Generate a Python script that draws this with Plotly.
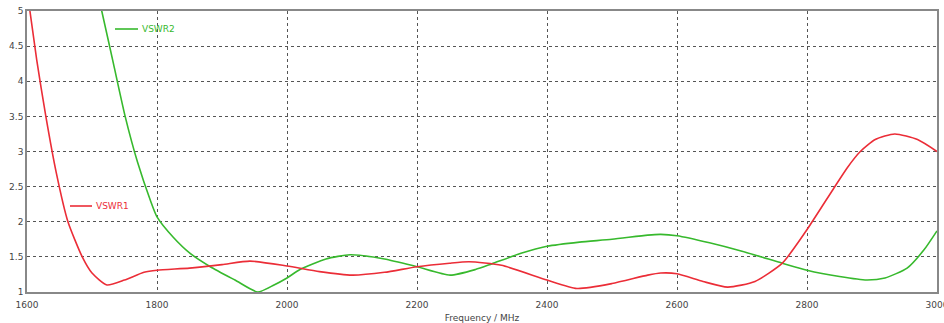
import plotly.graph_objects as go

freq1 = [1600, 1615, 1629, 1645, 1663, 1685, 1700, 1723, 1750, 1780, 1800, 1850, 1900, 1943,
         2000, 2050, 2100, 2150, 2200, 2250, 2280, 2330, 2400, 2446, 2500, 2555, 2575, 2600,
         2640, 2678, 2720, 2762, 2798, 2840, 2862, 2882, 2905, 2935, 2970, 3000]
vswr1 = [5.3, 4.3, 3.5, 2.7, 2.0, 1.5, 1.27, 1.1, 1.17, 1.28, 1.31, 1.34, 1.39, 1.44,
         1.37, 1.29, 1.24, 1.28, 1.36, 1.41, 1.43, 1.38, 1.17, 1.05, 1.12, 1.24, 1.27, 1.26,
         1.15, 1.07, 1.15, 1.41, 1.86, 2.46, 2.77, 3.0, 3.17, 3.25, 3.17, 3.0]

freq2 = [1700, 1715, 1733, 1751, 1770, 1790, 1800, 1825, 1851, 1882, 1920, 1955, 1980, 2000,
         2020, 2060, 2097, 2150, 2200, 2251, 2290, 2315, 2360, 2400, 2450, 2500, 2555, 2575,
         2600, 2650, 2700, 2762, 2800, 2850, 2892, 2920, 2954, 2980, 3000]
vswr2 = [5.6, 5.0, 4.25, 3.5, 2.85, 2.3, 2.07, 1.78, 1.55, 1.36, 1.17, 1.0, 1.1, 1.2,
         1.32, 1.47, 1.53, 1.47, 1.36, 1.24, 1.32, 1.4, 1.55, 1.65, 1.71, 1.75, 1.81, 1.82,
         1.8, 1.7, 1.58, 1.41, 1.31, 1.22, 1.17, 1.2, 1.34, 1.6, 1.87]

x_ticks = [1600, 1800, 2000, 2200, 2400, 2600, 2800, 3000]
y_ticks = [1, 1.5, 2, 2.5, 3, 3.5, 4, 4.5, 5]

RED = "rgb(235,45,55)"
GREEN = "rgb(55,185,45)"
FONT = "DejaVu Sans"

fig = go.Figure()
fig.add_trace(go.Scatter(x=freq2, y=vswr2, mode="lines", name="VSWR2",
                         line=dict(color=GREEN, width=1.6, shape="spline", smoothing=0.6)))
fig.add_trace(go.Scatter(x=freq1, y=vswr1, mode="lines", name="VSWR1",
                         line=dict(color=RED, width=1.6, shape="spline", smoothing=0.6)))

W, H = 944, 323
L, R, T, B = 27, 7, 11, 31
pw, ph = W - L - R, H - T - B


def px_x(p):
    return (p - L) / pw


def px_y(p):
    return 1 - (p - T) / ph


legend_items = [("VSWR2", GREEN, 115, 138, 29), ("VSWR1", RED, 70, 92, 206)]
shapes, annos = [], []
for name, col, x0, x1, yy in legend_items:
    shapes.append(dict(type="line", xref="paper", yref="paper", x0=px_x(x0), x1=px_x(x1),
                       y0=px_y(yy), y1=px_y(yy), line=dict(color=col, width=1.6)))
    annos.append(dict(xref="paper", yref="paper", x=px_x(x1 + 2), y=px_y(yy), text=name,
                      showarrow=False, xanchor="left", yanchor="middle",
                      font=dict(family=FONT, size=9, color=col)))

tickfont = dict(family=FONT, size=9, color="#444")
fig.update_layout(
    width=W, height=H,
    margin=dict(l=L, r=R, t=T, b=B),
    paper_bgcolor="white", plot_bgcolor="white",
    font=dict(family=FONT, size=9, color="#444"),
    showlegend=False,
    shapes=shapes, annotations=annos,
    xaxis=dict(range=[1600, 3000], tickvals=x_ticks, ticktext=[str(t) for t in x_ticks],
               showgrid=True, gridcolor="#555", griddash="dot", gridwidth=1,
               showline=True, linecolor="#888", linewidth=1.5, mirror=True,
               ticks="", tickfont=tickfont, zeroline=False, automargin=False,
               ticklabelstandoff=3, ticklabeloverflow="allow",
               title=dict(text="Frequency / MHz", font=dict(size=9, color="#444"), standoff=6)),
    yaxis=dict(range=[1, 5], tickvals=y_ticks, ticktext=[f"{t:g}" for t in y_ticks],
               showgrid=True, gridcolor="#555", griddash="dot", gridwidth=1,
               showline=True, linecolor="#888", linewidth=1.5, mirror=True,
               ticks="", tickfont=tickfont, zeroline=False, automargin=False,
               ticklabeloverflow="allow"),
)
fig.write_html("out.html", config={"displayModeBar": False},
               post_script="document.body.style.margin='0';document.body.style.overflow='hidden';")
